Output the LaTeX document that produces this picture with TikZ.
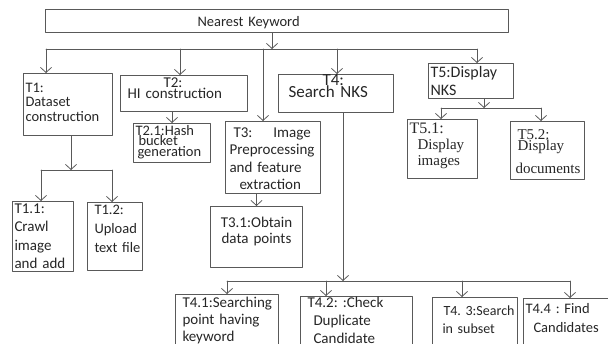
\documentclass[tikz,border=0pt]{standalone}
\usepackage{fontspec}
\setmainfont{Carlito}
\newfontfamily\tnr{Liberation Serif}
\usetikzlibrary{arrows.meta}

\newcommand\fs[2]{\fontsize{#1}{#2}\selectfont}
\tikzset{
  task/.style={draw=black!65, line width=1pt, anchor=north west, inner xsep=2pt, inner ysep=0pt,
    align=left, text=black!85, execute at begin node={\hyphenpenalty=10000 \lineskiplimit=-20pt}},
  link/.style={draw=black!65, line width=0.8pt},
  arr/.style={link, -{Straight Barb[length=5pt,width=11pt]}},
}

\begin{document}
\begin{tikzpicture}[x=1pt, y=-1pt, line cap=round, line join=round]
  \useasboundingbox (0,0) rectangle (608,344);
  \clip (0,0) rectangle (608,344);

  \node[task, text width=459pt, text height=17pt, text depth=6pt, font=\fs{14.5}{15}] (nk) at (45,9) {\hspace*{150pt}Nearest Keyword};

  % first level
  \node[task, text width=85pt, text height=19pt, text depth=43pt, font=\fs{14.5}{14.5}] (t1) at (23,73) {T1:\\Dataset\\construction};
  \node[task, text width=123pt, text height=12pt, text depth=24pt, font=\fs{15}{11}] (t2) at (120,75) {\hspace*{41pt}T2:\\\hspace*{5pt}HI construction};
  \node[task, inner xsep=4pt, text width=87pt, text height=16pt, text depth=56pt, font=\fs{15}{17.5}] (t3) at (225,121) {\hspace*{4pt}T3:\hspace{21pt}Image\\Preprocessing\\and feature\\\hspace*{10pt}extraction};
  \node[task, text width=111pt, text height=11pt, text depth=27pt, font=\fs{17}{12}] (t4) at (278,74) {\hspace*{42pt}T4:\\\hspace*{8pt}Search NKS};
  \node[task, text width=81pt, text height=14pt, text depth=21pt, font=\fs{16}{18}] (t5) at (428,63) {T5:Display\\NKS};

  % second level
  \node[task, text width=57pt, text height=12pt, text depth=58pt, font=\fs{15}{18.5}] (t11) at (12,201) {T1.1:\\Crawl\\image\\and add};
  \node[task, text width=51pt, text height=12pt, text depth=56pt, font=\fs{14.5}{19}] (t12) at (87,202) {\hspace*{5pt}T1.2:\\\hspace*{5pt}Upload\\\hspace*{5pt}text file};
  \node[task, text width=73pt, text height=12pt, text depth=27pt, font=\fs{14.5}{10.5}] (t21) at (133,123) {T2.1:Hash\\\hspace*{3pt}bucket\\\hspace*{2pt}generation};
  \node[task, align=center, text width=88pt, text height=21pt, text depth=40pt, font=\fs{15}{16}] (t31) at (210,206) {T3.1:Obtain\\data points};
  \node[task, text width=66pt, text height=14pt, text depth=45pt, font=\tnr\fs{15}{16}] (t51) at (407,119) {{\fs{16}{16}T5.1:}\\\hspace*{8pt}Display\\\hspace*{8pt}images};
  \node[task, text width=70pt, text height=18pt, text depth=40pt, font=\tnr\fs{15}{16}] (t52) at (510,121) {\hspace*{5pt}T5.2:\\[-5pt]\hspace*{5pt}Display\\[7pt]\hspace*{3pt}documents};

  \node[task, text width=99pt, text height=13pt, text depth=60pt, font=\fs{15}{17}] (t41) at (175,294) {\hspace*{5pt}T4.1:Searching\\\hspace*{5pt}point having\\\hspace*{5pt}keyword};
  \node[task, text width=108pt, text height=11pt, text depth=60pt, font=\fs{15}{18}] (t42) at (300,296) {\hspace*{5pt}T4.2:~:Check\\\hspace*{11pt}Duplicate\\\hspace*{11pt}Candidate};
  \node[task, text width=81pt, text height=18pt, text depth=60pt, font=\fs{14}{18}] (t43) at (432,297) {\hspace*{9pt}T4.~3:Search\\\hspace*{8pt}in subset};
  \node[task, text width=96pt, text height=15pt, text depth=60pt, font=\fs{14.5}{19}] (t44) at (523,298) {T4.4~:~Find\\\hspace*{8pt}Candidates};

  % top bus
  \coordinate (j0) at (272,49);
  \coordinate (d1) at (46,49);
  \coordinate (d2) at (180,49);
  \coordinate (d3) at (263,49);
  \coordinate (d4) at (337,49);
  \coordinate (d5) at (477,49);
  \draw[arr] (nk.south -| j0) -- (j0);
  \draw[link] (d1) -- (d5);
  \foreach \d/\t in {d1/t1, d2/t2, d3/t3, d4/t4, d5/t5}
    \draw[arr] (\d) -- (\d |- \t.north);

  % T1 split
  \coordinate (j1) at (71,170);
  \coordinate (e1) at (41,170);
  \coordinate (e2) at (112,170);
  \draw[arr] (j1 |- t1.south) -- (j1);
  \draw[link] (e1) -- (e2);
  \draw[arr] (e1) -- (e1 |- t11.north);
  \draw[arr] (e2) -- (e2 |- t12.north);

  \draw[arr] (t2.south -| t21.north) -- (t21.north);
  \draw[arr] (t3.south -| t31.north) -- (t31.north);

  % T5 split
  \coordinate (j5) at (484,108);
  \coordinate (g1) at (441,108);
  \coordinate (g2) at (541,108);
  \draw[arr] (j5 |- t5.south) -- (j5);
  \draw[link] (g1) -- (g2);
  \draw[arr] (g1) -- (g1 |- t51.north);
  \draw[arr] (g2) -- (g2 |- t52.north);

  % T4 bus
  \coordinate (j4) at (343,281);
  \coordinate (f1) at (227,281);
  \coordinate (f2) at (326,281);
  \coordinate (f3) at (462,281);
  \coordinate (f4) at (570,281);
  \draw[arr] (j4 |- t4.south) -- (j4);
  \draw[link] (f1) -- (f4);
  \foreach \f/\t in {f1/t41, f2/t42, f3/t43, f4/t44}
    \draw[arr] (\f) -- (\f |- \t.north);
\end{tikzpicture}
\end{document}
